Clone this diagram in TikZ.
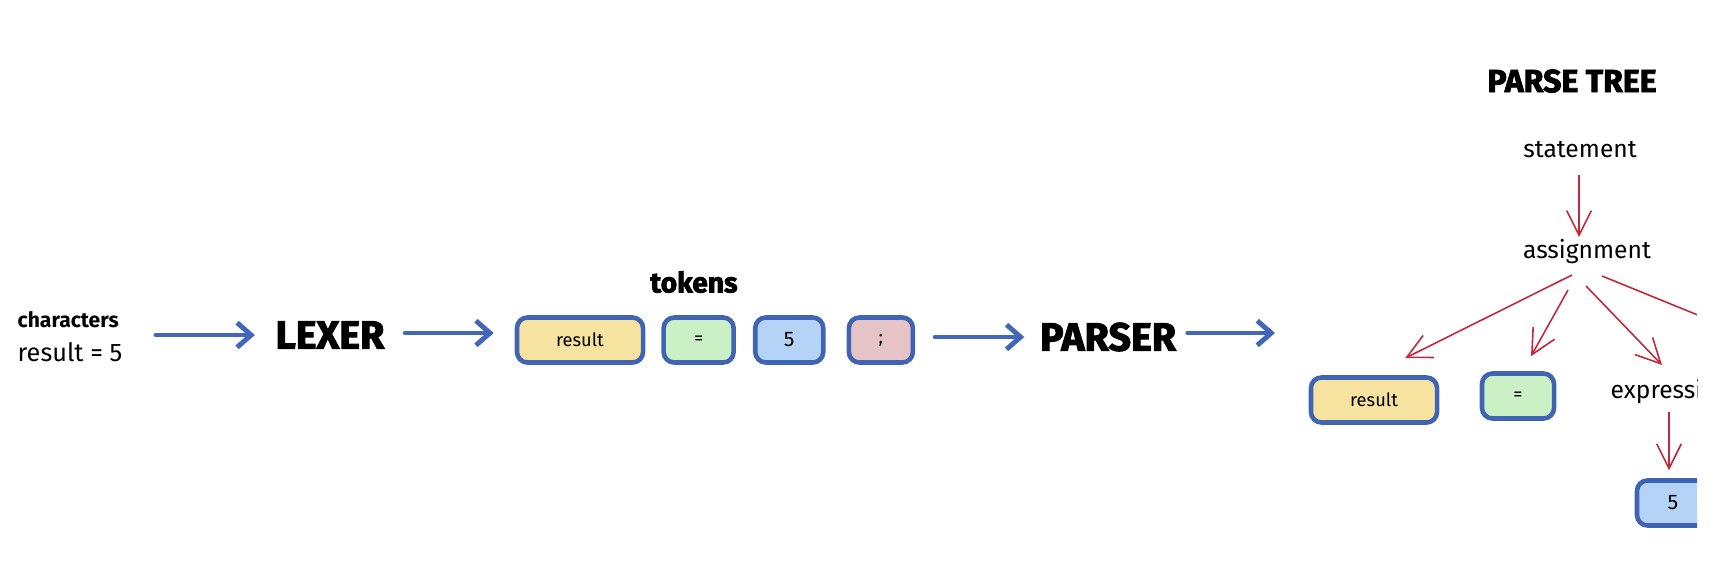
\documentclass[tikz,border=0pt]{standalone}
\usepackage{fontspec}
\setmainfont{Fira Sans}
\newfontfamily\headfont{Fira Sans}[BoldFeatures={FakeBold=2.5}]
\usetikzlibrary{positioning,arrows.meta}

\definecolor{flowblue}{HTML}{4466B8}
\definecolor{boxblue}{HTML}{4064B4}
\definecolor{tokyellow}{HTML}{F6E3A0}
\definecolor{tokgreen}{HTML}{CBF0C5}
\definecolor{tokblue}{HTML}{B5D3F7}
\definecolor{tokpink}{HTML}{E6C3C6}
\definecolor{treered}{HTML}{C0283C}

\begin{document}
\begin{tikzpicture}[x=0.01cm, y=-0.01cm,
    flow/.style={draw=flowblue, line width=1.4pt, line cap=round, -{Straight Barb[length=4pt,width=7pt]}},
    branch/.style={draw=treered, line width=0.45pt, -{Straight Barb[length=7pt,width=7pt]}},
    tok/.style={draw=boxblue, line width=1.3pt, rounded corners=3pt, minimum height=0.45cm, inner sep=0pt, font=\fontsize{5.2}{6}\selectfont},
    head/.style={inner sep=0pt, font=\headfont\bfseries\fontsize{11.2}{12}\selectfont},
    word/.style={inner sep=0pt, font=\fontsize{7}{8}\selectfont}]
    \useasboundingbox (0,0) rectangle (1734,566);
    \begin{scope}
        \clip (0,0) rectangle (1697,566);
        % input and lexer
        \node[word, anchor=west, font=\bfseries\fontsize{6}{7}\selectfont] (chars) at (17,320) {characters};
        \node[word, anchor=west, font=\fontsize{7.2}{8}\selectfont] (src) at (17,352) {result = 5};
        \node[head] (lexer) at (330,335) {LEXER};
        % token stream
        \node[tok, fill=tokyellow, minimum width=1.26cm] (t1) at (580,340) {result};
        \node[tok, fill=tokgreen, minimum width=0.7cm, right=0.16cm of t1] (t2) {=};
        \node[tok, fill=tokblue, minimum width=0.68cm, right=0.17cm of t2, font=\fontsize{6}{7}\selectfont] (t3) {5};
        \node[tok, fill=tokpink, minimum width=0.64cm, right=0.21cm of t3] (t4) {;};
        \node[inner sep=0pt, font=\headfont\bfseries\fontsize{8}{9}\selectfont] (tokens) at (694,282) {tokens};
        \node[head] (parser) at (1108,337) {PARSER};
        \coordinate (treein) at (1275,333);
        % parse tree
        \node[head, font=\headfont\bfseries\fontsize{9.1}{10}\selectfont] (ptree) at (1572,81) {PARSE TREE};
        \node[word] (stmt) at (1580,150) {statement};
        \node[word] (assign) at (1587,252) {assignment};
        \node[tok, fill=tokyellow, minimum width=1.26cm] (r2) at (1374,400) {result};
        \node[tok, fill=tokgreen, minimum width=0.72cm] (e2) at (1518,396) {=};
        \node[word, anchor=west] (expr) at (1610,392) {expression};
        \node[tok, fill=tokblue, minimum width=0.72cm, font=\fontsize{6}{7}\selectfont] (f2) at (1673,503) {5};
        \coordinate (semi2) at (1840,373);

        \draw[flow] ([shift={(-119,0)}]lexer.west) -- ([shift={(-20,0)}]lexer.west);
        \draw[flow] ([shift={(20,-2)}]lexer.east) -- ([shift={(-21,-7)}]t1.west);
        \draw[flow] ([shift={(20,-3)}]t4.east) -- ([shift={(-15,0)}]parser.west);
        \draw[flow] ([shift={(11,-4)}]parser.east) -- (treein);

        \draw[branch] ([shift={(-1,25)}]stmt.center) -- ([shift={(-8,-15)}]assign.center);
        \draw[branch] ([shift={(-15,23)}]assign.center) -- ([shift={(31,-17)}]r2.north);
        \draw[branch] ([shift={(-19,38)}]assign.center) -- ([shift={(13,-15)}]e2.north);
        \draw[branch] ([shift={(-1,34)}]assign.center) -- ([shift={(52,-27)}]expr.west);
        \draw[branch] ([shift={(15,24)}]assign.center) -- (semi2);
        \draw[branch] ([shift={(59,20)}]expr.west) -- ([shift={(-4,-8)}]f2.north);
    \end{scope}
\end{tikzpicture}
\end{document}
